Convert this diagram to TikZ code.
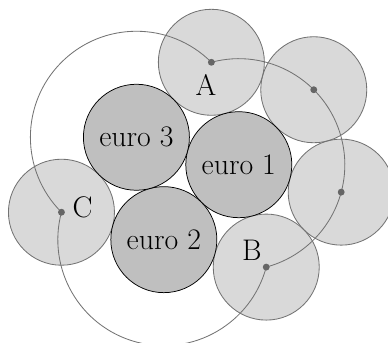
\documentclass[tikz,border=0pt]{standalone}
\usetikzlibrary{calc}
\begin{document}
\begin{tikzpicture}[
    euro/.style={draw, circle, fill=black!25, minimum size=2cm, inner sep=0pt},
    coin/.style={circle, fill=black!15, minimum size=2cm, inner sep=0pt},
    rim/.style={draw=black!55, line width=0.45pt},
    track/.style={draw=black!55, line width=0.45pt},
    every node/.style={font=\fontsize{16}{19}\selectfont}
  ]
  \useasboundingbox (-3.39,-3.047) rectangle (3.93,3.406);

  \coordinate (m1) at (15:1.1547);
  \coordinate (m2) at (255:1.1547);
  \coordinate (m3) at (135:1.1547);

  % the moving coin, five positions
  \node[coin] (A) at (75:2.3094) {};
  \node[coin] (P) at ($(m1)+(45:2)$) {};
  \node[coin] (Q) at ($(m1)+(-15:2)$) {};
  \node[coin] (B) at (-45:2.3094) {};
  \node[coin] (C) at (195:2.3094) {};
  \foreach \c in {A,P,Q,B,C}
    \draw[rim] (\c) circle[radius=1cm];

  \node[euro] (e1) at (m1) {euro 1};
  \node[euro] (e2) at (m2) {euro 2};
  \node[euro] (e3) at (m3) {euro 3};

  % path of the centre
  \draw[track] (C.center) arc[start angle=225, end angle=45, radius=2cm]
    arc[start angle=105, end angle=-75, radius=2cm]
    arc[start angle=-15, end angle=-195, radius=2cm];

  \foreach \c in {A,P,Q,B,C}
    \fill[black!60] (\c) circle[radius=0.065];

  \node (labA) at ($(A)+(-0.1,-0.42)$) {A};
  \node (labB) at ($(B)+(-0.27,0.32)$) {B};
  \node (labC) at ($(C)+(0.4,0.09)$) {C};
\end{tikzpicture}
\end{document}
